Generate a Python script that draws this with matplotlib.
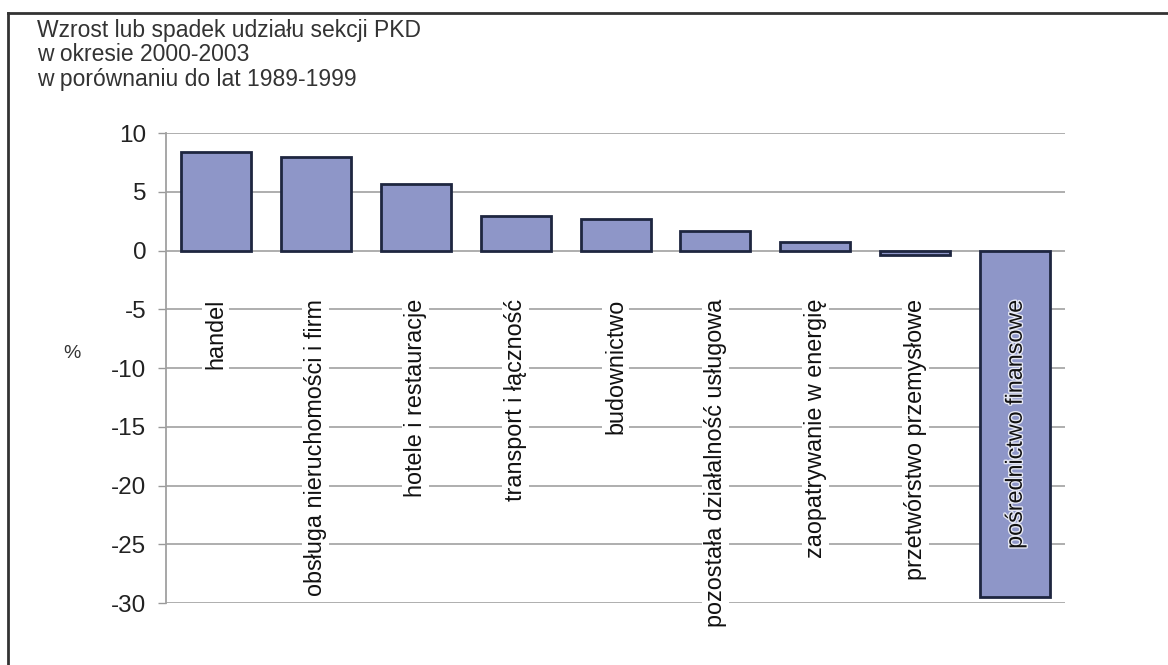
import matplotlib.pyplot as plt
import matplotlib.patheffects as pe
from matplotlib.lines import Line2D

plt.rcParams['font.family'] = ['Liberation Sans', 'DejaVu Sans']

# data
categories = [
    "handel",
    "obsługa nieruchomości i firm",
    "hotele i restauracje",
    "transport i łączność",
    "budownictwo",
    "pozostała działalność usługowa",
    "zaopatrywanie w energię",
    "przetwórstwo przemysłowe",
    "pośrednictwo finansowe",
]
values = [8.4, 8.0, 5.7, 2.9, 2.7, 1.7, 0.7, -0.4, -29.5]
yticks = [10, 5, 0, -5, -10, -15, -20, -25, -30]

title = "Wzrost lub spadek udziału sekcji PKD\nw okresie 2000-2003\nw porównaniu do lat 1989-1999"

fig = plt.figure(figsize=(11.68, 6.65), dpi=100)
ax = fig.add_axes([0.142, 0.093, 0.770, 0.707])

x = list(range(len(categories)))
ax.bar(x, values, width=0.7, color="#8E96C8", edgecolor="#1E2640", linewidth=2, zorder=3)

ax.set_xlim(-0.5, len(categories) - 0.5)
ax.set_ylim(-30, 10)
ax.set_yticks(yticks)
ax.set_yticklabels([str(t) for t in yticks], fontsize=17.5, color="#222222")
ax.tick_params(axis="y", length=6, width=1, color="#999999", pad=8)
ax.tick_params(axis="x", bottom=False, labelbottom=False)
ax.yaxis.grid(True, color="#A8A8A8", linewidth=1.3, zorder=0)

for side in ["top", "right", "bottom"]:
    ax.spines[side].set_visible(False)
ax.spines["left"].set_color("#A0A0A0")
ax.spines["left"].set_linewidth(1.3)

# category labels written vertically below the zero line
for i, (cat, v) in enumerate(zip(categories, values)):
    if v < -10:
        ax.text(i, -4.1, cat, rotation=90, ha="center", va="top", fontsize=16.8,
                color="#111111", zorder=5,
                path_effects=[pe.withStroke(linewidth=2, foreground="#E6E8F4")])
    else:
        ax.text(i, -4.1, cat, rotation=90, ha="center", va="top", fontsize=16.8,
                color="#111111", zorder=5,
                bbox=dict(facecolor="white", edgecolor="none", pad=1.5))

fig.text(72 / 1168, 1 - 353 / 665, "%", fontsize=14, color="#333333", ha="center", va="center")
fig.text(37 / 1168, 1 - 19 / 665, title, fontsize=16.5, color="#333333",
         ha="left", va="top", linespacing=1.08)

# outer frame of the picture
fig.add_artist(Line2D([8 / 1168, 1.0], [1 - 13 / 665, 1 - 13 / 665], color="#333333", linewidth=2))
fig.add_artist(Line2D([8 / 1168, 8 / 1168], [0, 1 - 13 / 665], color="#333333", linewidth=2))

fig.savefig("out.png", dpi=100)
